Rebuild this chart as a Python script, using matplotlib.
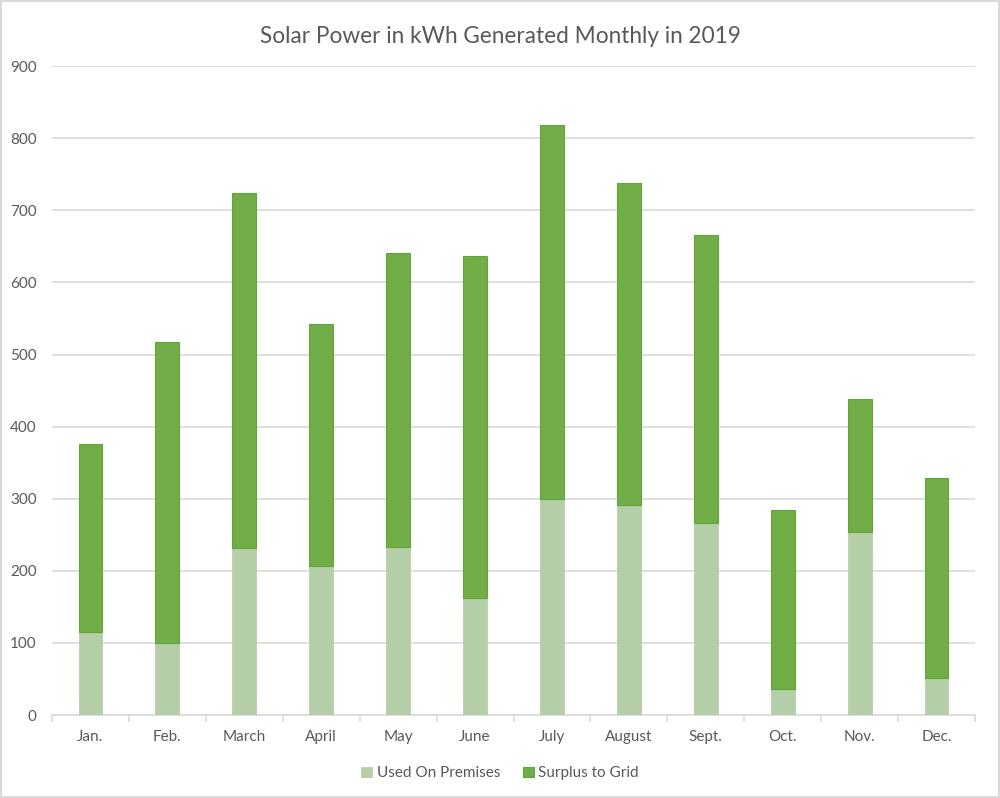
import numpy as np
import matplotlib.pyplot as plt

months = ['Jan.', 'Feb.', 'March', 'April', 'May', 'June', 'July',
          'August', 'Sept.', 'Oct.', 'Nov.', 'Dec.']
used = [115, 100, 232, 207, 233, 162, 300, 291, 266, 36, 254, 51]
total = [376, 517, 724, 542, 641, 637, 818, 738, 666, 284, 438, 329]
surplus = [t - u for t, u in zip(total, used)]

plt.rcParams['font.family'] = ['Lato', 'DejaVu Sans']

fig = plt.figure(figsize=(10, 7.98), dpi=100)
ax = fig.add_axes([0.052, 0.104, 0.923, 0.813])

x = np.arange(len(months))
w = 0.31
ax.bar(x, used, w, color='#b4cfa8', edgecolor='#b4cfa8', linewidth=0.6,
       label='Used On Premises', zorder=3)
ax.bar(x, surplus, w, bottom=used, color='#70ad47', edgecolor='#64a53a',
       linewidth=0.8, label='Surplus to Grid', zorder=3)

ax.set_ylim(0, 900)
ax.set_xlim(-0.5, len(months) - 0.5)
ax.set_yticks(range(0, 901, 100))
ax.yaxis.grid(True, color='#d9d9d9', linewidth=1.2, zorder=0)
ax.tick_params(axis='y', length=0, labelsize=11, labelcolor='#595959', pad=11)

ax.set_xticks(x)
ax.set_xticklabels(months)
ax.set_xticks(np.arange(-0.5, len(months), 1), minor=True)
ax.tick_params(axis='x', which='major', length=0, labelsize=11,
               labelcolor='#595959', pad=11)
ax.tick_params(axis='x', which='minor', length=5, color='#d9d9d9', width=1.2)

for s in ['top', 'right', 'left']:
    ax.spines[s].set_visible(False)
ax.spines['bottom'].set_color('#d9d9d9')
ax.spines['bottom'].set_linewidth(1.2)

fig.suptitle('Solar Power in kWh Generated Monthly in 2019', y=0.967,
             fontsize=16.3, color='#595959')
fig.legend(loc='lower center', bbox_to_anchor=(0.5, 0.005), ncol=2,
           frameon=False, fontsize=11, labelcolor='#595959',
           handlelength=0.7, handleheight=0.7, handletextpad=0.3,
           columnspacing=1.5)

fig.patches.append(plt.Rectangle((0.001, 0.001), 0.998, 0.998,
                                 transform=fig.transFigure, fill=False,
                                 edgecolor='#d9d9d9', linewidth=1.5))

fig.savefig('out.png', dpi=100)
